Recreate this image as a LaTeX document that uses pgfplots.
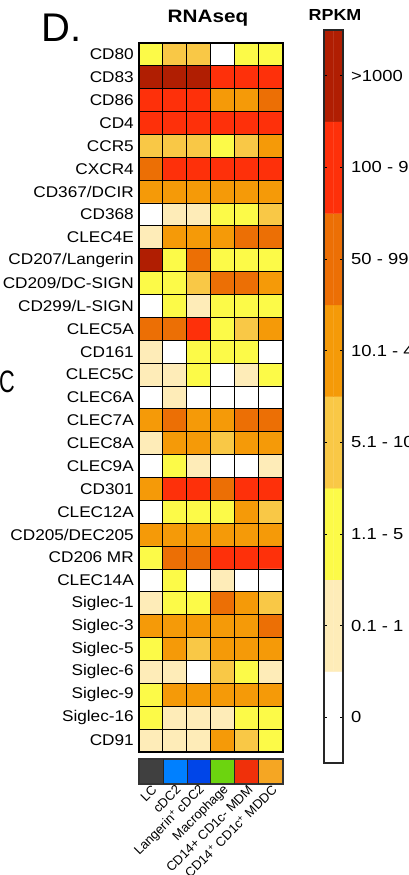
\documentclass[border=0pt]{standalone}
\usepackage{fontspec}
\setmainfont{Liberation Sans}
\usepackage{pgfplots}
\pgfplotsset{compat=1.18}
\pgfplotsset{
  rpkmmap/.style={colormap={rpkm}{rgb255=(255,255,255) rgb255=(254,236,184) rgb255=(252,250,72) rgb255=(249,200,70) rgb255=(245,154,8) rgb255=(236,111,5) rgb255=(254,48,10) rgb255=(176,30,2)}, colormap access=direct},
}
\begin{document}
\begin{tikzpicture}[x=1pt,y=1pt]
% ---------- heatmap ----------
\begin{axis}[
  at={(139pt,-43pt)}, anchor=north west,
  scale only axis, width=144pt, height=709pt,
  xmin=-0.5, xmax=5.5, ymin=-0.5, ymax=30.5, y dir=reverse,
  rpkmmap,
  xtick=\empty,
  ytick={0,...,30},
  yticklabels={CD80,CD83,CD86,CD4,CCR5,CXCR4,CD367/DCIR,CD368,CLEC4E,CD207/Langerin,CD209/DC-SIGN,CD299/L-SIGN,CLEC5A,CD161,CLEC5C,CLEC6A,CLEC7A,CLEC8A,CLEC9A,CD301,CLEC12A,CD205/DEC205,CD206 MR,CLEC14A,Siglec-1,Siglec-3,Siglec-5,Siglec-6,Siglec-9,Siglec-16,CD91},
  yticklabel style={font=\fontsize{15.5}{16}\selectfont, inner sep=0pt, xshift=-5pt, xscale=1.11},
  major tick length=0pt,
  extra x ticks={0.5,1.5,2.5,3.5,4.5},
  extra x tick labels={},
  extra y ticks={0.5,1.5,...,29.5},
  extra y tick labels={},
  extra tick style={grid=major, major grid style={black, line width=1pt}, major tick length=0pt},
  axis on top,
  axis line style={black, line width=1.8pt},
]
\addplot[matrix plot*, mesh/cols=6, point meta=explicit] coordinates {
(0,0)[2] (1,0)[3] (2,0)[3] (3,0)[0] (4,0)[2] (5,0)[2]
(0,1)[7] (1,1)[7] (2,1)[7] (3,1)[6] (4,1)[6] (5,1)[6]
(0,2)[6] (1,2)[6] (2,2)[6] (3,2)[4] (4,2)[4] (5,2)[5]
(0,3)[6] (1,3)[6] (2,3)[6] (3,3)[6] (4,3)[6] (5,3)[6]
(0,4)[3] (1,4)[3] (2,4)[3] (3,4)[2] (4,4)[3] (5,4)[4]
(0,5)[5] (1,5)[6] (2,5)[6] (3,5)[6] (4,5)[6] (5,5)[6]
(0,6)[4] (1,6)[4] (2,6)[4] (3,6)[4] (4,6)[4] (5,6)[4]
(0,7)[0] (1,7)[1] (2,7)[1] (3,7)[2] (4,7)[2] (5,7)[3]
(0,8)[1] (1,8)[4] (2,8)[4] (3,8)[4] (4,8)[5] (5,8)[5]
(0,9)[7] (1,9)[2] (2,9)[5] (3,9)[2] (4,9)[2] (5,9)[2]
(0,10)[2] (1,10)[2] (2,10)[3] (3,10)[5] (4,10)[5] (5,10)[4]
(0,11)[0] (1,11)[2] (2,11)[1] (3,11)[2] (4,11)[2] (5,11)[2]
(0,12)[5] (1,12)[5] (2,12)[6] (3,12)[2] (4,12)[3] (5,12)[4]
(0,13)[1] (1,13)[0] (2,13)[2] (3,13)[2] (4,13)[2] (5,13)[0]
(0,14)[1] (1,14)[1] (2,14)[2] (3,14)[0] (4,14)[1] (5,14)[2]
(0,15)[0] (1,15)[1] (2,15)[0] (3,15)[0] (4,15)[0] (5,15)[0]
(0,16)[4] (1,16)[5] (2,16)[4] (3,16)[4] (4,16)[5] (5,16)[5]
(0,17)[1] (1,17)[4] (2,17)[4] (3,17)[3] (4,17)[4] (5,17)[4]
(0,18)[0] (1,18)[2] (2,18)[1] (3,18)[0] (4,18)[0] (5,18)[1]
(0,19)[4] (1,19)[6] (2,19)[6] (3,19)[5] (4,19)[6] (5,19)[6]
(0,20)[0] (1,20)[2] (2,20)[2] (3,20)[2] (4,20)[4] (5,20)[3]
(0,21)[4] (1,21)[4] (2,21)[4] (3,21)[4] (4,21)[4] (5,21)[4]
(0,22)[2] (1,22)[5] (2,22)[5] (3,22)[6] (4,22)[6] (5,22)[6]
(0,23)[0] (1,23)[2] (2,23)[0] (3,23)[1] (4,23)[0] (5,23)[0]
(0,24)[1] (1,24)[2] (2,24)[2] (3,24)[5] (4,24)[4] (5,24)[3]
(0,25)[4] (1,25)[4] (2,25)[4] (3,25)[4] (4,25)[4] (5,25)[5]
(0,26)[2] (1,26)[4] (2,26)[3] (3,26)[4] (4,26)[4] (5,26)[4]
(0,27)[1] (1,27)[1] (2,27)[0] (3,27)[3] (4,27)[2] (5,27)[1]
(0,28)[2] (1,28)[4] (2,28)[4] (3,28)[4] (4,28)[4] (5,28)[4]
(0,29)[2] (1,29)[1] (2,29)[1] (3,29)[1] (4,29)[2] (5,29)[2]
(0,30)[1] (1,30)[1] (2,30)[1] (3,30)[4] (4,30)[3] (5,30)[2]
};
\end{axis}
% ---------- cell type bar ----------
\begin{axis}[
  at={(139pt,-759pt)}, anchor=north west,
  scale only axis, width=144pt, height=25pt,
  xmin=-0.5, xmax=5.5, ymin=-0.5, ymax=1.5,
  colormap={cells}{rgb255=(64,64,64) rgb255=(0,128,255) rgb255=(0,69,232) rgb255=(108,212,15) rgb255=(240,48,10) rgb255=(245,166,35)},
  colormap access=direct,
  ytick=\empty, xtick={0,...,5},
  xticklabels={LC, cDC2, Langerin\textsuperscript{+} cDC2, Macrophage, CD14+ CD1c- MDM, CD14\textsuperscript{+} CD1c\textsuperscript{+} MDDC},
  xticklabel style={font=\fontsize{13}{13}\selectfont, rotate=45, anchor=east, inner sep=0pt, yshift=-5pt},
  major tick length=0pt,
  extra x ticks={0.5,1.5,2.5,3.5,4.5},
  extra x tick labels={},
  extra x tick style={grid=major, major grid style={black!85, line width=1pt}, major tick length=0pt},
  axis on top, axis line style={black!80, line width=1.2pt},
]
\addplot[matrix plot*, mesh/cols=6, point meta=explicit] coordinates {
(0,0)[0] (1,0)[1] (2,0)[2] (3,0)[3] (4,0)[4] (5,0)[5]
(0,1)[0] (1,1)[1] (2,1)[2] (3,1)[3] (4,1)[4] (5,1)[5]
};
\end{axis}
% ---------- colour scale ----------
\begin{axis}[
  at={(324pt,-30pt)}, anchor=north west,
  scale only axis, width=19pt, height=733pt,
  xmin=-0.5, xmax=1.5, ymin=-0.5, ymax=7.5,
  rpkmmap,
  xtick=\empty, ytick={0,...,7},
  yticklabels={0, 0.1 - 1, 1.1 - 5, 5.1 - 10, 10.1 - 49, 50 - 99, 100 - 999, >1000},
  yticklabel pos=right,
  yticklabel style={font=\fontsize{16}{16}\selectfont, inner sep=0pt, xshift=8pt, anchor=west, xscale=1.15},
  tick align=inside, major tick length=3pt,
  tick style={black, line width=0.8pt},
  axis on top, axis line style={black!85, line width=1.4pt},
]
\addplot[matrix plot*, mesh/cols=2, point meta=explicit] coordinates {
(0,0)[0] (1,0)[0]
(0,1)[1] (1,1)[1]
(0,2)[2] (1,2)[2]
(0,3)[3] (1,3)[3]
(0,4)[4] (1,4)[4]
(0,5)[5] (1,5)[5]
(0,6)[6] (1,6)[6]
(0,7)[7] (1,7)[7]
};
\end{axis}
% ---------- titles ----------
\node[anchor=base, font=\bfseries\fontsize{18}{18}\selectfont, xscale=1.15, inner sep=0pt] at (208,-23) {RNAseq};
\node[anchor=base, font=\bfseries\fontsize{16}{16}\selectfont, xscale=1.12, inner sep=0pt] at (335,-20.7) {RPKM};
\node[anchor=base west, font=\fontsize{40}{40}\selectfont, inner sep=0pt] at (41,-42) {D.};
\node[anchor=base east, font=\fontsize{31}{31}\selectfont, xscale=0.7, inner sep=0pt] at (15,-392) {C};
\pgfresetboundingbox
\useasboundingbox (0,0) rectangle (408,-875);
\end{tikzpicture}
\end{document}
